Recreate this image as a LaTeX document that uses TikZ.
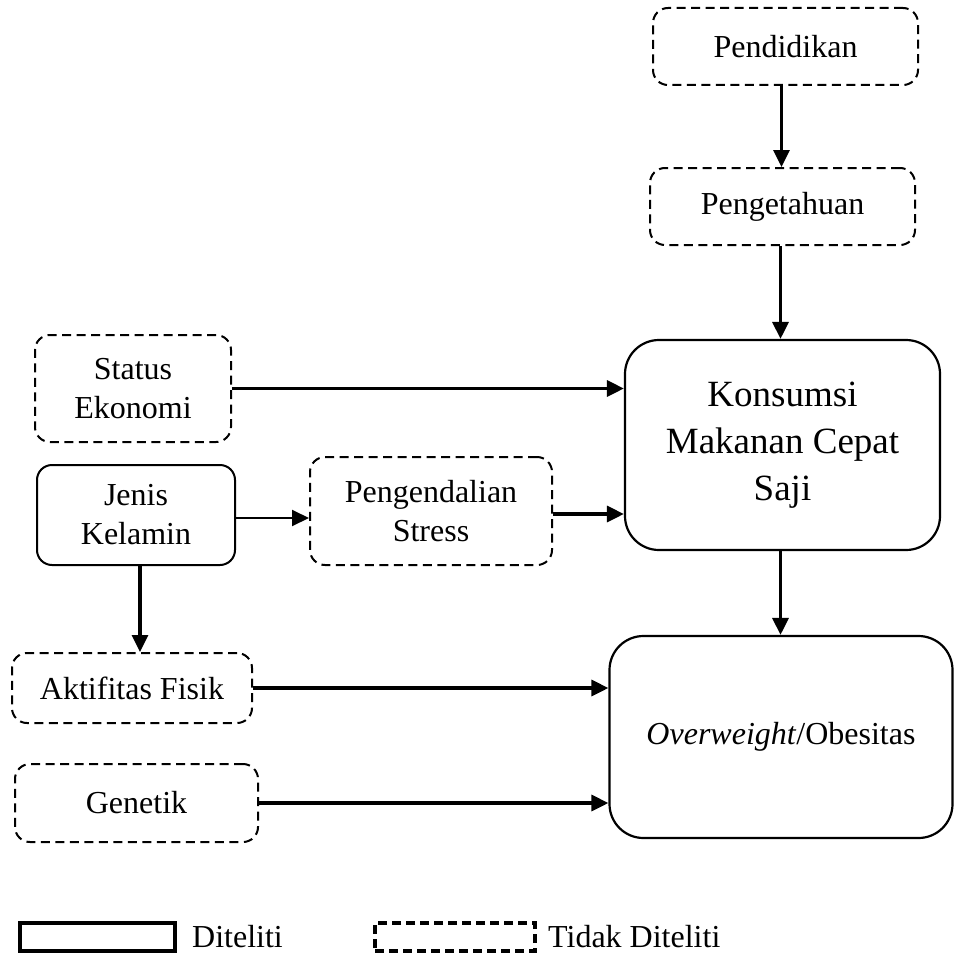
\documentclass[tikz,border=0pt]{standalone}
\usepackage{fontspec}
\setmainfont{Liberation Serif}
\usetikzlibrary{arrows.meta}
\tikzset{
  base/.style={draw, line width=2pt, align=center, inner sep=0pt, font=\fontsize{32}{39}\selectfont},
  dbox/.style={base, rounded corners=15pt, dash pattern=on 9pt off 5.5pt},
  sbox/.style={base, rounded corners=15pt},
  bigbox/.style={base, rounded corners=34pt, line width=2.2pt},
  arr/.style={line width=3.2pt, -{Triangle[length=17pt,width=16pt]}},
  thinarr/.style={line width=2pt, -{Triangle[length=17pt,width=16pt]}},
  legtext/.style={anchor=west, inner sep=0pt, font=\fontsize{32}{38}\selectfont}
}
\begin{document}
\begin{tikzpicture}[x=1pt,y=-1pt]
\useasboundingbox (0,0) rectangle (954,955);
% nodes
\node[dbox, minimum width=265pt, minimum height=77pt] (pend) at (785.5,46.5) {Pendidikan};
\node[dbox, minimum width=265pt, minimum height=77pt] (penget) at (782.5,206.5) {Pengetahuan};
\node[bigbox, minimum width=315pt, minimum height=210pt, font=\fontsize{37}{47}\selectfont] (kons) at (782.5,445) {Konsumsi\\Makanan Cepat\\Saji};
\node[bigbox, minimum width=343pt, minimum height=202pt] (over) at (781,737) {\textit{Overweight}/Obesitas};
\node[dbox, minimum width=196pt, minimum height=107pt] (status) at (133,388.5) {Status\\Ekonomi};
\node[sbox, minimum width=198pt, minimum height=100pt] (jenis) at (136,515) {Jenis\\Kelamin};
\node[dbox, minimum width=242pt, minimum height=108pt] (peng) at (431,511) {Pengendalian\\Stress};
\node[dbox, minimum width=240pt, minimum height=70pt] (akt) at (132,688) {Aktifitas Fisik};
\node[dbox, minimum width=243pt, minimum height=78pt] (gen) at (136.5,803) {Genetik};
% connectors
\draw[arr] ([xshift=-4pt]pend.south) -- ([xshift=-4pt]pend.south |- penget.north);
\draw[arr] ([xshift=-2pt]penget.south) -- ([xshift=-2pt]penget.south |- kons.north);
\draw[arr] (status.east) -- (status.east -| kons.west);
\draw[thinarr] ([yshift=-3pt]jenis.east) -- ([yshift=-3pt]jenis.east -| peng.west);
\draw[arr] ([yshift=-3pt]peng.east) -- ([yshift=-3pt]peng.east -| kons.west);
\draw[arr] ([xshift=4pt]jenis.south) -- ([xshift=4pt]jenis.south |- akt.north);
\draw[arr] ([xshift=-2pt]kons.south) -- ([xshift=-2pt]kons.south |- over.north);
\draw[arr] (akt.east) -- (akt.east -| over.west);
\draw[arr] (gen.east) -- (gen.east -| over.west);
% legend
\node[draw, line width=3.5pt, minimum width=155pt, minimum height=28pt, inner sep=0pt] (legs) at (97.5,937) {};
\node[legtext] (legst) at (192,937) {Diteliti};
\node[draw, line width=3.5pt, dash pattern=on 9pt off 5pt, minimum width=160pt, minimum height=28pt, inner sep=0pt] (legd) at (455,937) {};
\node[legtext] (legdt) at (548,937) {Tidak Diteliti};
\end{tikzpicture}
\end{document}
